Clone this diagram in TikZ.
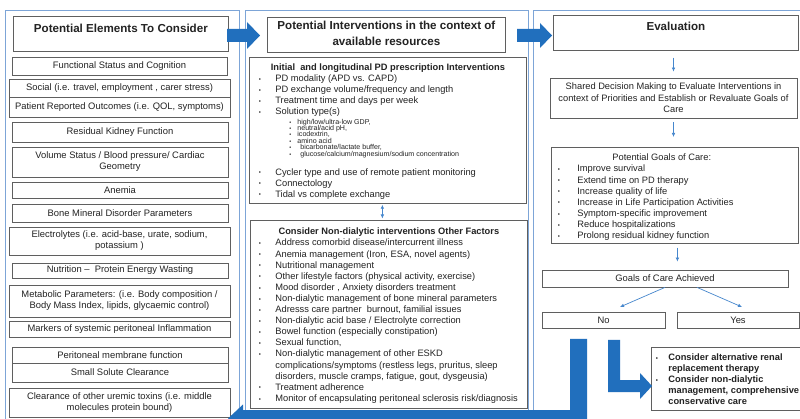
\documentclass[tikz,border=0pt]{standalone}
\usepackage{fontspec}
\setmainfont{Liberation Sans}
\usetikzlibrary{arrows.meta}
\definecolor{panelblue}{RGB}{125,165,215}
\definecolor{arrowblue}{RGB}{33,111,189}
\definecolor{thinblue}{RGB}{70,135,205}
\definecolor{boxgray}{RGB}{95,95,95}
\definecolor{txt}{RGB}{35,35,35}
\newlength\bulout
\newlength\bulin
\newcommand\bulsym{\raisebox{0.3pt}{\fontsize{6}{6}\selectfont\textbullet}}
\newcommand\sbulsym{{\fontsize{5.5}{5.5}\selectfont\textbullet}}
\newcommand\bul[1]{\hbox{\hskip\bulout\hbox to\dimexpr\bulin-\bulout\relax{\bulsym\hfil}#1}}
\newcommand\cont[1]{\hbox{\hskip\bulin #1}}
\newcommand\ctr[1]{\hbox to\hsize{\hfil #1\hfil}}
\newcommand\sbul[2][8]{\hbox{\hskip40pt\hbox to #1pt{\sbulsym\hfil}#2}}
\begin{document}
\begin{tikzpicture}[x=1pt,y=-1pt,
  panel/.style={draw=panelblue, line width=0.9pt},
  ebox/.style={draw=boxgray, line width=0.75pt, fill=white, inner sep=0pt, align=center, text=txt, font=\fontsize{9.4}{11}\selectfont},
  tbox/.style={draw=boxgray, line width=0.75pt, fill=white, inner sep=0pt, anchor=north west, text=txt},
  tarrow/.style={draw=thinblue, line width=0.7pt, -{Latex[length=4pt,width=3.6pt]}},
  tboth/.style={draw=thinblue, line width=0.7pt, {Latex[length=4pt,width=3.6pt]}-{Latex[length=4pt,width=3.6pt]}},
  blockarrow/.style={fill=arrowblue}]
\useasboundingbox (0,0) rectangle (800,419);
\clip (0,0) rectangle (800,419);
\fill[white] (0,0) rectangle (800,419);
% panels
\draw[panel] (5,10) rectangle (239,430);
\draw[panel] (245,10) rectangle (528,430);
\draw[panel] (533,10) rectangle (812,430);
% ---------------- left column
\node[tbox] (t1) at (13,16) {\parbox[t][35pt][t]{215pt}{\fontsize{11.6}{14}\selectfont\bfseries\ctr{\rule{0pt}{16pt}Potential Elements To Consider}}};
\node[ebox, minimum width=215, minimum height=18] (l1) at (119.5,66) {Functional Status and Cognition};
\node[ebox, minimum width=221, minimum height=18] (l2) at (119.5,88) {Social (i.e. travel, employment , carer stress)};
\node[ebox, minimum width=221, minimum height=20] (l3) at (119.5,107) {Patient Reported Outcomes (i.e. QOL, symptoms)};
\node[ebox, minimum width=216, minimum height=20] (l4) at (120,132) {Residual Kidney Function};
\node[ebox, minimum width=216, minimum height=30] (l5) at (120,162) {Volume Status / Blood pressure/ Cardiac\\Geometry};
\node[ebox, minimum width=216, minimum height=16] (l6) at (120,190) {Anemia};
\node[ebox, minimum width=216, minimum height=18] (l7) at (120,213) {Bone Mineral Disorder Parameters};
\node[ebox, minimum width=221, minimum height=28] (l8) at (119.5,241) {Electrolytes (i.e. acid-base, urate, sodium,\\potassium )};
\node[ebox, minimum width=216, minimum height=15] (l9) at (120,270.5) {Nutrition --\ \ Protein Energy Wasting};
\node[ebox, minimum width=221, minimum height=32] (l10) at (119.5,301) {Metabolic Parameters: (i.e. Body composition /\\Body Mass Index, lipids, glycaemic control)};
\node[ebox, minimum width=221, minimum height=16] (l11) at (119.5,329) {Markers of systemic peritoneal Inflammation};
\node[ebox, minimum width=216, minimum height=16] (l12) at (120,355) {Peritoneal membrane function};
\node[ebox, minimum width=216, minimum height=19] (l13) at (120,372.5) {Small Solute Clearance};
\node[ebox, minimum width=221, minimum height=29] (l14) at (119.5,402.5) {Clearance of other uremic toxins (i.e. middle\\molecules protein bound)};
% ---------------- middle column
\node[tbox] (t2) at (267,17) {\parbox[t][35pt][t]{238pt}{\fontsize{11.6}{16}\selectfont\bfseries\ctr{\rule{0pt}{12pt}Potential Interventions in the context of}\ctr{available resources}}};
\node[tbox] (m1) at (249,57) {\parbox[t][146pt][t]{277pt}{\fontsize{9.3}{11}\selectfont\lineskiplimit=-100pt
\setlength\bulout{9.5pt}\setlength\bulin{26pt}%
\ctr{\rule{0pt}{13.5pt}\bfseries Initial\ \ and longitudinal PD prescription Interventions}
\bul{PD modality (APD vs. CAPD)}
\bul{PD exchange volume/frequency and length}
\bul{Treatment time and days per week}
\bul{Solution type(s)}
{\fontsize{7.1}{6.4}\selectfont\kern2.8pt
\sbul{high/low/ultra-low GDP,}
\sbul{neutral/acid pH,}
\sbul{icodextrin,}
\sbul{amino acid}
\sbul[11]{bicarbonate/lactate buffer,}
\sbul[11]{glucose/calcium/magnesium/sodium concentration}}
\kern8pt
\bul{Cycler type and use of remote patient monitoring}
\bul{Connectology}
\bul{Tidal vs complete exchange}}};
\node[tbox] (m2) at (250,220) {\parbox[t][188pt][t]{277pt}{\fontsize{9.3}{11.1}\selectfont\lineskiplimit=-100pt
\setlength\bulout{8.5pt}\setlength\bulin{25pt}%
\ctr{\rule{0pt}{14.5pt}\bfseries Consider Non-dialytic interventions Other Factors}
\bul{Address comorbid disease/intercurrent illness}
\bul{Anemia management (Iron, ESA, novel agents)}
\bul{Nutritional management}
\bul{Other lifestyle factors (physical activity, exercise)}
\bul{Mood disorder , Anxiety disorders treatment}
\bul{Non-dialytic management of bone mineral parameters}
\bul{Adresss care partner\ \ burnout, familial issues}
\bul{Non-dialytic acid base / Electrolyte correction}
\bul{Bowel function (especially constipation)}
\bul{Sexual function,}
\bul{Non-dialytic management of other ESKD}
\cont{complications/symptoms (restless legs, pruritus, sleep}
\cont{disorders, muscle cramps, fatigue, gout, dysgeusia)}
\bul{Treatment adherence}
\bul{Monitor of encapsulating peritoneal sclerosis risk/diagnosis}}};
% ---------------- right column
\node[tbox] (eval) at (553,15) {\parbox[t][35pt][t]{245pt}{\fontsize{11.6}{14}\selectfont\bfseries\ctr{\rule{0pt}{15pt}Evaluation}}};
\node[ebox, minimum width=247, minimum height=40, font=\fontsize{9.3}{11.5}\selectfont] (shared) at (673.5,98) {Shared Decision Making to Evaluate Interventions in\\context of Priorities and Establish or Revaluate Goals of\\Care};
\node[tbox] (goals) at (551,147) {\parbox[t][96pt][t]{247pt}{\fontsize{9.3}{11.1}\selectfont\lineskiplimit=-100pt
\setlength\bulout{6.5pt}\setlength\bulin{26pt}%
\hbox to\hsize{\hskip61pt\rule{0pt}{13.5pt}Potential Goals of Care:\hfil}
\bul{Improve survival}
\bul{Extend time on PD therapy}
\bul{Increase quality of life}
\bul{Increase in Life Participation Activities}
\bul{Symptom-specific improvement}
\bul{Reduce hospitalizations}
\bul{Prolong residual kidney function}}};
\node[ebox, minimum width=246, minimum height=17] (achieved) at (665,278.5) {Goals of Care Achieved};
\node[ebox, minimum width=123, minimum height=16] (no) at (603.5,320) {No};
\node[ebox, minimum width=122, minimum height=16] (yes) at (738,320) {Yes};
\node[tbox] (final) at (651,347) {\parbox[t][63pt][t]{157pt}{\fontsize{9.3}{10.9}\selectfont\bfseries\lineskiplimit=-100pt
\setlength\bulout{4.5pt}\setlength\bulin{17pt}%
\hbox to\hsize{\bul{\rule{0pt}{13.5pt}Consider alternative renal}\hfil}
\cont{replacement therapy}
\bul{Consider non-dialytic}
\cont{management, comprehensive}
\cont{conservative care}}};
% ---------------- thin connectors
\coordinate (noin) at (620,307);
\coordinate (yesin) at (742,307);
\draw[tarrow, shorten <=7pt, shorten >=6pt] (eval.south -| shared.north) -- (shared.north);
\draw[tarrow, shorten <=4pt, shorten >=10pt] (shared.south) -- (shared.south |- goals.north);
\draw[tarrow, shorten <=4pt, shorten >=8pt] ([xshift=2.5pt]goals.south) -- ([xshift=2.5pt]goals.south |- achieved.north);
\draw[tarrow] (achieved.south) -- (noin);
\draw[tarrow] ([xshift=32pt]achieved.south) -- (yesin);
\draw[tboth, shorten <=1pt, shorten >=1.5pt] ([xshift=-5.5pt]m1.south) -- ([xshift=-5.5pt]m1.south |- m2.north);
% ---------------- block arrows
\fill[blockarrow] (227,29) -- (247,29) -- (247,22) -- (260,35.5) -- (247,49) -- (247,42) -- (227,42) -- cycle;
\fill[blockarrow] (517,29) -- (540,29) -- (540,23) -- (552,35.5) -- (540,48) -- (540,42) -- (517,42) -- cycle;
\fill[blockarrow] (587,339) -- (587,427) -- (243,427) -- (243,432.5) -- (228,418.5) -- (243,404.5) -- (243,410) -- (570,410) -- (570,339) -- cycle;
\fill[blockarrow] (608,340) -- (620,340) -- (620,380) -- (640,380) -- (640,373) -- (652,386) -- (640,399) -- (640,392) -- (608,392) -- cycle;
\end{tikzpicture}
\end{document}
